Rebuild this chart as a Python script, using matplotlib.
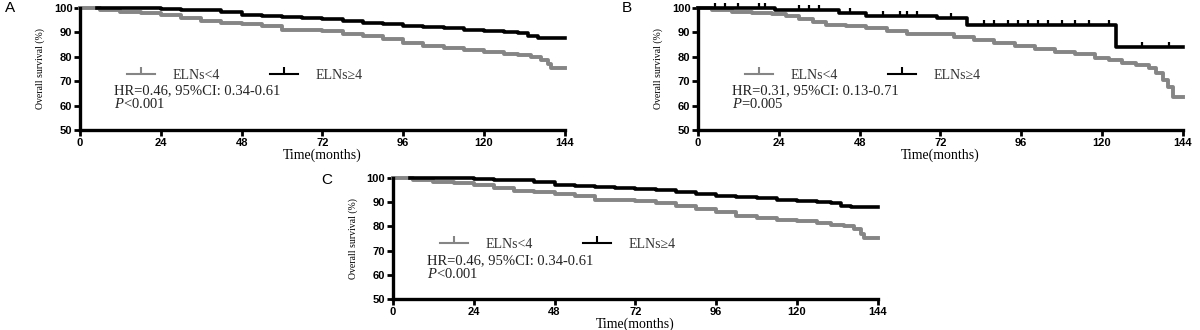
import matplotlib
matplotlib.use("Agg")
import matplotlib.pyplot as plt
import numpy as np
from matplotlib.lines import Line2D

plt.rcParams["mathtext.fontset"] = "custom"
plt.rcParams["mathtext.it"] = "Liberation Serif:italic"
plt.rcParams["mathtext.rm"] = "Liberation Serif"

GRAY = "#858585"
BLACK = "#000000"

# Panel A / C : ELNs<4 and ELNs>=4 (same data)
A_t_low = [0, 6, 12, 18, 24, 30, 36, 42, 48, 54, 60, 66, 72, 78, 84, 90, 96,
           102, 108, 114, 120, 126, 130, 134, 137, 139, 140, 144]
A_s_low = [100, 99, 98.5, 98, 97, 96, 94.5, 94, 93.5, 92.5, 91, 90.8, 90.5,
           89.5, 88.5, 87.3, 85.8, 84.3, 83.4, 82.6, 82, 81.2, 80.7, 80,
           78.7, 77, 75.2, 75.2]
A_t_high = [5, 12, 24, 30, 36, 42, 48, 54, 60, 66, 72, 78, 84, 90, 96, 102,
            108, 114, 120, 126, 130, 133, 136, 144]
A_s_high = [100, 99.8, 99.5, 99.2, 99, 98.2, 97, 96.6, 96.3, 95.8, 95.4, 94.8,
            94, 93.3, 92.7, 92.2, 91.6, 91, 90.4, 90, 89.7, 88.5, 87.8, 87.8]

# Panel B
B_t_low = [0, 4, 10, 16, 22, 26, 30, 34, 38, 44, 50, 56, 62, 70, 76, 82, 88,
           94, 100, 106, 112, 118, 122, 126, 130, 134, 136, 138, 139.5, 141, 144]
B_s_low = [100, 99, 98.2, 98, 97.5, 96.5, 95.5, 94.2, 93, 92.6, 91.8, 90.6,
           89.5, 89.5, 88, 87, 85.8, 84.5, 83, 82, 81, 79.5, 78.5, 77.5, 76.5,
           75.5, 73.5, 70.5, 67.5, 63.5, 63.5]
B_t_high = [0, 23, 42, 50, 71, 80, 124, 144]
B_s_high = [100, 99.2, 98, 96.8, 95.8, 93, 84.2, 84.2]
B_cens_high = [5, 8, 12, 18, 20, 30, 33, 36, 45, 55, 60, 62, 65, 75, 85, 88,
               92, 95, 98, 101, 104, 108, 112, 116, 122, 132, 140]

panels = [
    ("A", A_t_low, A_s_low, A_t_high, A_s_high, None,
     "HR=0.46, 95%CI: 0.34-0.61", r"$\it{P}$<0.001"),
    ("B", B_t_low, B_s_low, B_t_high, B_s_high, B_cens_high,
     "HR=0.31, 95%CI: 0.13-0.71", r"$\it{P}$=0.005"),
    ("C", A_t_low, A_s_low, A_t_high, A_s_high, None,
     "HR=0.46, 95%CI: 0.34-0.61", r"$\it{P}$<0.001"),
]
rects = [
    [0.0667, 0.606, 0.404, 0.370],
    [0.5817, 0.606, 0.404, 0.370],
    [0.3275, 0.094, 0.404, 0.367],
]
label_pos = [(0.004, 0.975), (0.518, 0.975), (0.268, 0.455)]

fig = plt.figure(figsize=(12, 3.3), dpi=100)

for (name, tl, sl, th, sh, cens, hr, p), rect, lp in zip(panels, rects, label_pos):
    ax = fig.add_axes(rect)
    ax.step(tl, sl, where="post", color=GRAY, lw=2.8, clip_on=False)
    ax.step(th, sh, where="post", color=BLACK, lw=2.6, clip_on=False)
    if cens is not None:
        idx = np.searchsorted(th, cens, side="right") - 1
        ax.plot(cens, np.array(sh)[idx], ls="none", marker=2, ms=3.5,
                mew=1.6, color=BLACK, clip_on=False)

    ax.set_xlim(0, 144)
    ax.set_ylim(50, 100)
    ax.set_xticks(np.arange(0, 145, 24))
    ax.set_yticks(np.arange(50, 101, 10))
    for s in ["top", "right"]:
        ax.spines[s].set_visible(False)
    for s in ["left", "bottom"]:
        ax.spines[s].set_linewidth(2.4)
    ax.tick_params(width=2.0, length=4, direction="out", pad=1.5)
    for lab in ax.get_xticklabels() + ax.get_yticklabels():
        lab.set_fontfamily("Liberation Sans")
        lab.set_fontweight("bold")
        lab.set_fontsize(8)

    ax.set_xlabel("Time(months)", fontfamily="Liberation Serif", fontsize=10,
                  labelpad=0.5)
    ax.set_ylabel("Overall survival (%)", fontfamily="Liberation Serif",
                  fontsize=7, labelpad=6)

    handles = [
        Line2D([], [], color=GRAY, lw=1.5, marker=2, ms=5, mew=1.5),
        Line2D([], [], color=BLACK, lw=1.5, marker=2, ms=5, mew=1.5),
    ]
    ax.legend(handles, ["ELNs<4", "ELNs\u2265" + "4"], ncol=2, frameon=False,
              loc="center left", bbox_to_anchor=(0.085, 0.45),
              prop={"family": "Liberation Serif", "size": 10},
              handlelength=2.0, handletextpad=1.3, columnspacing=3.6,
              labelcolor="#333333", borderaxespad=0)
    ax.text(10, 66.0, hr, fontfamily="Liberation Serif", fontsize=10.5,
            color="#222222", va="center", ha="left")
    ax.text(10, 60.5, p, fontfamily="Liberation Serif", fontsize=10.5,
            color="#222222", va="center", ha="left")

    fig.text(lp[0], lp[1], name, fontfamily="Liberation Sans", fontsize=11,
             va="center", ha="left")

fig.savefig("out.png", dpi=100)
